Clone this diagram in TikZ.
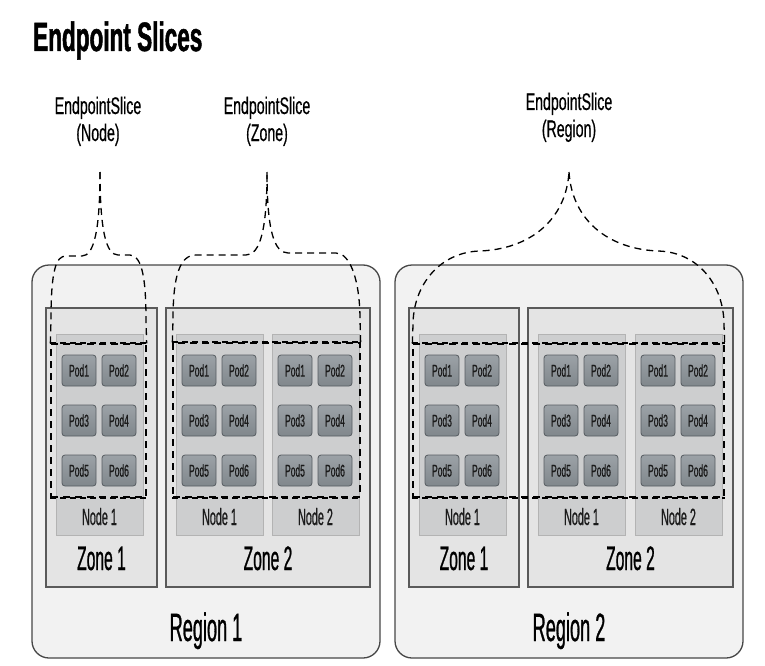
\documentclass[tikz,border=0pt]{standalone}
\usepackage{fontspec}
\setmainfont{Liberation Sans}
\newfontfamily\podf[FakeStretch=0.5,FakeBold=0.6]{Liberation Sans}
\newfontfamily\labf[FakeStretch=0.46,FakeBold=0.7]{Liberation Sans}
\newfontfamily\slicef[FakeStretch=0.59,FakeBold=0.5]{Liberation Sans}
\newfontfamily\titlef[FakeStretch=0.55,FakeBold=1.2]{Liberation Sans}
\usetikzlibrary{fit}
\definecolor{regionfill}{HTML}{F2F2F2}
\definecolor{regionborder}{HTML}{474747}
\definecolor{zonefill}{HTML}{E4E4E4}
\definecolor{zoneborder}{HTML}{5A5A5A}
\definecolor{nodefill}{HTML}{CDCECF}
\definecolor{nodeborder}{HTML}{B3B3B3}
\definecolor{podtop}{HTML}{9CA2A7}
\definecolor{podbot}{HTML}{80878C}
\definecolor{podborder}{HTML}{565C61}
\definecolor{txt}{HTML}{1A1A1A}
\begin{document}
\begin{tikzpicture}[x=1pt,y=-1pt,
  region/.style={draw=regionborder, fill=regionfill, line width=1.3pt, rounded corners=17pt, inner sep=0pt},
  zone/.style={draw=zoneborder, fill=zonefill, line width=1.2pt, inner sep=0pt},
  nodebox/.style={draw=nodeborder, fill=nodefill, line width=0.6pt, inner sep=0pt},
  pod/.style={draw=podborder, top color=podtop, bottom color=podbot, rounded corners=3pt, line width=0.8pt, minimum width=34pt, minimum height=31pt, inner sep=0pt, font=\podf\fontsize{17}{17}\selectfont, text=txt},
  nodelab/.style={anchor=base, inner sep=0pt, text=txt, font=\labf\fontsize{23.5}{23.5}\selectfont},
  zonelab/.style={anchor=base, inner sep=0pt, text=black, font=\labf\fontsize{34}{34}\selectfont},
  reglab/.style={anchor=base, inner sep=0pt, text=black, font=\labf\fontsize{39.5}{39.5}\selectfont},
  slicelab/.style={anchor=base, inner sep=0pt, text=black, font=\slicef\fontsize{24}{24}\selectfont},
  slicebox/.style={draw=black, dash pattern=on 7pt off 5pt, line width=1.3pt, inner sep=0pt},
  slicethick/.style={draw=black, dash pattern=on 6pt off 4pt, line width=2pt},
  brace/.style={draw=black, dash pattern=on 7pt off 5pt, line width=1.3pt}
]
\useasboundingbox (0,0) rectangle (765,666);
\fill[white] (0,0) rectangle (765,666);

\node[anchor=base west, inner sep=0pt, font=\titlef\bfseries\fontsize{41}{43}\selectfont] (title) at (33,51) {Endpoint Slices};

% regions
\node[region, fit={(32,265) (380,658)}] (r1) {};
\node[region, fit={(395,265) (743,658)}] (r2) {};
% zones
\node[zone, fit={(46,308) (157,587)}] (r1z1) {};
\node[zone, fit={(166,308) (370,587)}] (r1z2) {};
\node[zone, fit={(409,308) (519,587)}] (r2z1) {};
\node[zone, fit={(528,308) (733,587)}] (r2z2) {};

% nodes with pods
\foreach \nm/\xo/\lab in {a/56/Node 1, b/176/Node 1, c/272/Node 2, d/419/Node 1, e/538/Node 1, f/635/Node 2}{
  \node[nodebox, fit={(\xo,334) (\xo+87,535)}] (n\nm) {};
  \node[nodelab] (nl\nm) at (\xo+43.5,525) {\lab};
  \node[pod] (\nm p1) at (\xo+23,370.5) {Pod1};
  \node[pod] (\nm p2) at (\xo+63,370.5) {Pod2};
  \node[pod] (\nm p3) at (\xo+23,420.5) {Pod3};
  \node[pod] (\nm p4) at (\xo+63,420.5) {Pod4};
  \node[pod] (\nm p5) at (\xo+23,470.5) {Pod5};
  \node[pod] (\nm p6) at (\xo+63,470.5) {Pod6};
}

% zone and region labels
\node[zonelab] (zl1) at (101.5,570) {Zone 1};
\node[zonelab] (zl2) at (268,570) {Zone 2};
\node[zonelab] (zl3) at (464,570) {Zone 1};
\node[zonelab] (zl4) at (630.5,570) {Zone 2};
\node[reglab] (rl1) at (206,641) {Region 1};
\node[reglab] (rl2) at (569,641) {Region 2};

% slice labels
\node[slicelab] (s1a) at (98,114) {EndpointSlice};
\node[slicelab] (s1b) at (98,141) {(Node)};
\node[slicelab] (s2a) at (267,114) {EndpointSlice};
\node[slicelab] (s2b) at (267,141) {(Zone)};
\node[slicelab] (s3a) at (569,110) {EndpointSlice};
\node[slicelab] (s3b) at (569,137) {(Region)};

% slice boxes
\node[slicebox, fit={(51,344) (146,497)}] (s1) {};
\node[slicebox, fit={(173,343) (360,497)}] (s2) {};
\node[slicebox, fit={(413,344) (724,497)}] (s3) {};
\foreach \s in {s1,s2,s3}{
  \draw[slicethick] (\s.north west) -- (\s.north east);
  \draw[slicethick] (\s.south west) -- (\s.south east);
}

% braces
\coordinate (a1) at (100,172);
\coordinate (a2) at (267,172);
\coordinate (a3) at (569,172);
\draw[brace] (s1.north west) -- (51,320) .. controls (51,270) and (56,256) .. (66,256) -- (82,256) .. controls (94,256) and (100,230) .. (a1);
\draw[brace] (a1) .. controls (100,230) and (106,255) .. (118,255) -- (130,255) .. controls (140,256) and (146,270) .. (146,320) -- (s1.north east);
\draw[brace] (s2.north west) -- (173,320) .. controls (173,275) and (180,255) .. (196,255) -- (246,255) .. controls (260,255) and (267,230) .. (a2);
\draw[brace] (a2) .. controls (267,230) and (274,253) .. (288,253) -- (336,253) .. controls (350,253) and (360,280) .. (360,320) -- (s2.north east);
\draw[brace] (s3.north west) -- (413,325) .. controls (413,285) and (440,252) .. (480,251) .. controls (530,249) and (566,220) .. (a3);
\draw[brace] (a3) .. controls (572,220) and (608,249) .. (658,251) .. controls (698,252) and (724,285) .. (724,325) -- (s3.north east);
\end{tikzpicture}
\end{document}
